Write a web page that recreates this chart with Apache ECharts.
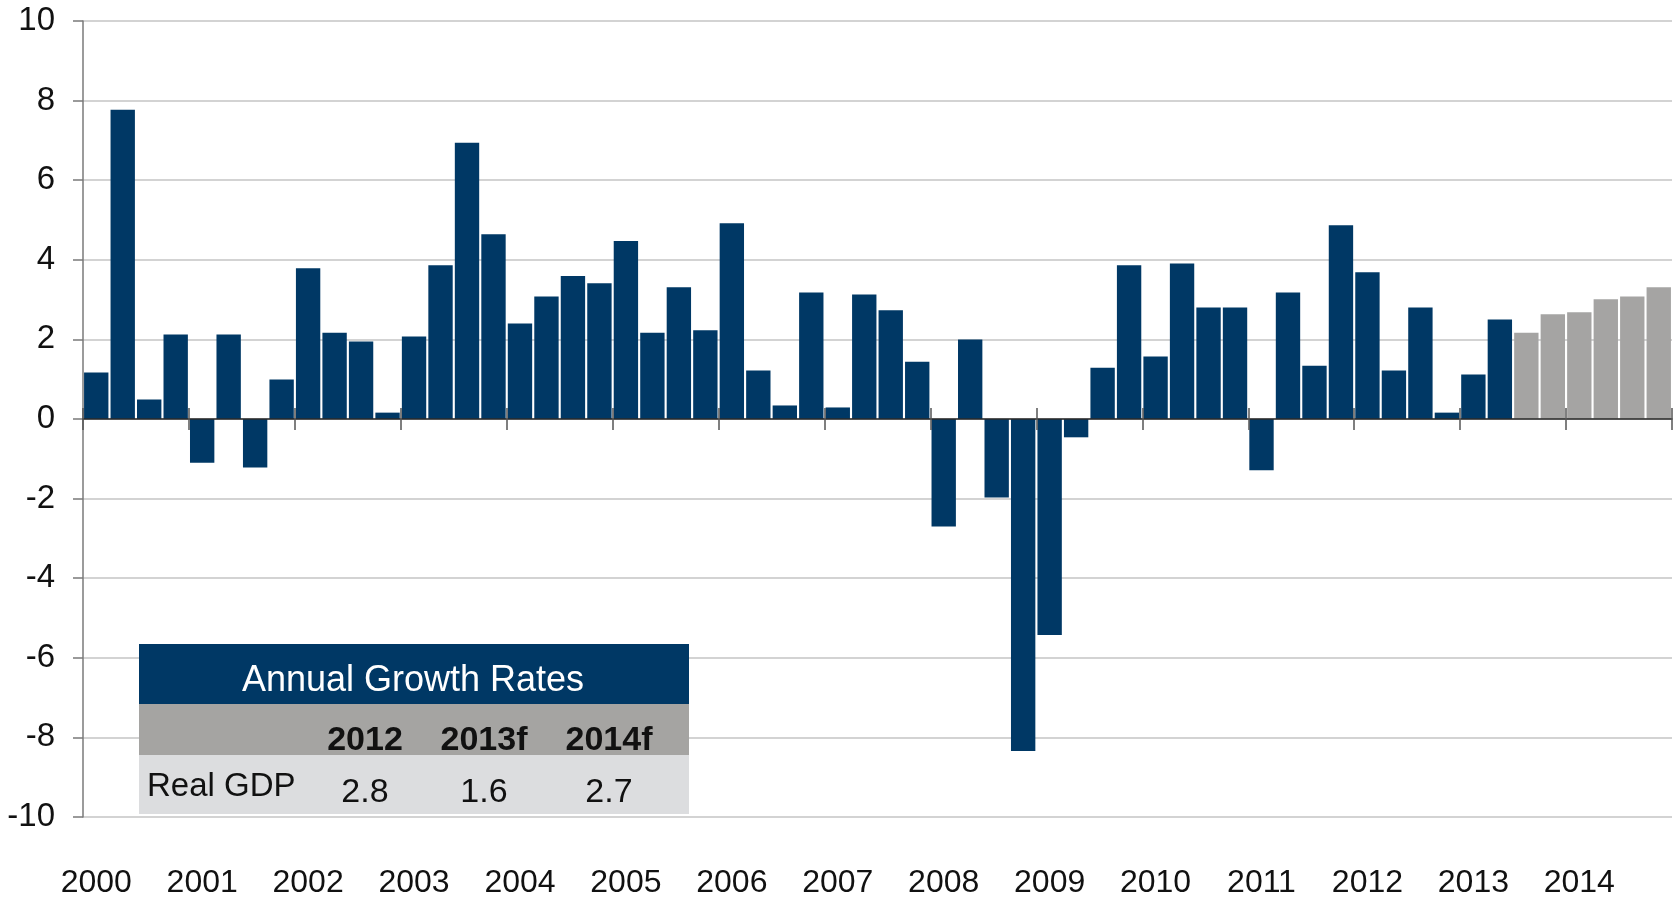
<!DOCTYPE html>
<html>
<head>
<meta charset="utf-8">
<title>Real GDP growth</title>
<script src="https://cdn.jsdelivr.net/npm/echarts@6/dist/echarts.min.js"></script>
<style>
  html, body { margin: 0; padding: 0; background: #fff; }
  #chart { width: 1673px; height: 897px; }
</style>
</head>
<body>
<div id="chart"></div>
<script>
// quarterly real GDP growth, annualised %
const years = ['2000', '2001', '2002', '2003', '2004', '2005', '2006', '2007',
  '2008', '2009', '2010', '2011', '2012', '2013', '2014'];
const quarters = ['Q1', 'Q2', 'Q3', 'Q4'];

const actualGrowth = [
  1.17, 7.77, 0.49, 2.12,
  -1.10, 2.12, -1.22, 0.99,
  3.79, 2.17, 1.95, 0.16,
  2.07, 3.86, 6.94, 4.64,
  2.40, 3.08, 3.59, 3.41,
  4.47, 2.17, 3.31, 2.23,
  4.92, 1.22, 0.34, 3.18,
  0.29, 3.13, 2.73, 1.44,
  -2.70, 2.00, -1.97, -8.34,
  -5.43, -0.46, 1.29, 3.86,
  1.57, 3.91, 2.80, 2.80,
  -1.29, 3.18, 1.34, 4.87,
  3.69, 1.22, 2.80, 0.16,
  1.12, 2.50
];
// forecast quarters 2013Q3 - 2014Q4
const forecastGrowth = [2.17, 2.63, 2.68, 3.01, 3.08, 3.31];

const yTicks = { min: -10, max: 10, step: 2 };

// small table in the lower left
const tableTitle = 'Annual Growth Rates';
const tableYears = ['2012', '2013f', '2014f'];
const tableRowLabel = 'Real GDP';
const tableValues = ['2.8', '1.6', '2.7'];

const navy = '#003865';
const grey = '#a5a4a3';
const font = 'Liberation Sans, Arial, sans-serif';

const categories = [];
years.forEach(y => quarters.forEach(q => categories.push(y + q)));

const actualData = categories.map((c, i) => i < actualGrowth.length ? actualGrowth[i] : null);
const forecastData = categories.map((c, i) => {
  const k = i - actualGrowth.length;
  return k >= 0 ? forecastGrowth[k] : null;
});

const chart = echarts.init(document.getElementById('chart'));

const colX = [365, 484, 609];

chart.setOption({
  animation: false,
  grid: { left: 83, right: 1, top: 21, bottom: 80, outerBoundsMode: 'none' },
  xAxis: [
    {
      type: 'category',
      data: categories,
      position: 'bottom',
      z: 5,
      axisLine: { show: true, onZero: true, onZeroAxisIndex: 0, lineStyle: { color: '#2a2a2a', width: 1.5 } },
      axisTick: { show: true, interval: 3, length: 11, lineStyle: { color: '#555', width: 1.5 } },
      axisLabel: { show: false },
      splitLine: { show: false }
    },
    {
      type: 'category',
      data: categories,
      position: 'bottom',
      z: 5,
      axisLine: { show: false, onZero: true, onZeroAxisIndex: 0 },
      axisTick: { show: true, inside: true, interval: 3, length: 11, lineStyle: { color: '#555', width: 1.5 } },
      axisLabel: { show: false },
      splitLine: { show: false }
    },
    {
      type: 'category',
      data: categories,
      position: 'bottom',
      axisLine: { show: false, onZero: false },
      axisTick: { show: false },
      axisLabel: {
        interval: 3,
        margin: 50,
        color: '#111',
        fontFamily: font,
        fontSize: 32,
        formatter: v => v.slice(0, 4)
      },
      splitLine: { show: false }
    }
  ],
  yAxis: {
    type: 'value',
    min: yTicks.min,
    max: yTicks.max,
    interval: yTicks.step,
    axisLine: { show: true, lineStyle: { color: '#7a7a7a', width: 1.5 } },
    axisTick: { show: true, length: 10, lineStyle: { color: '#7a7a7a', width: 1.5 } },
    axisLabel: { margin: 28, color: '#111', fontFamily: font, fontSize: 33 },
    splitLine: { show: true, lineStyle: { color: '#c4c4c4', width: 1.5 } }
  },
  series: [
    {
      name: 'Actual',
      type: 'bar',
      data: actualData,
      barGap: '-100%',
      barCategoryGap: '8%',
      itemStyle: { color: navy }
    },
    {
      name: 'Forecast',
      type: 'bar',
      data: forecastData,
      barGap: '-100%',
      barCategoryGap: '8%',
      itemStyle: { color: grey }
    }
  ],
  graphic: [
    { type: 'rect', z: 100, shape: { x: 139, y: 644, width: 550, height: 60 }, style: { fill: navy } },
    { type: 'rect', z: 100, shape: { x: 139, y: 704, width: 550, height: 51 }, style: { fill: '#a5a4a2' } },
    { type: 'rect', z: 100, shape: { x: 139, y: 755, width: 550, height: 59 }, style: { fill: '#dcdddf' } },
    {
      type: 'text', z: 101, x: 413, y: 681,
      style: { text: tableTitle, fill: '#fff', font: '36px ' + font, align: 'center', verticalAlign: 'middle' }
    },
    ...tableYears.map((t, i) => ({
      type: 'text', z: 101, x: colX[i], y: 741,
      style: { text: t, fill: '#111', font: 'bold 34px ' + font, align: 'center', verticalAlign: 'middle' }
    })),
    {
      type: 'text', z: 101, x: 147, y: 787,
      style: { text: tableRowLabel, fill: '#111', font: '33px ' + font, align: 'left', verticalAlign: 'middle' }
    },
    ...tableValues.map((t, i) => ({
      type: 'text', z: 101, x: colX[i], y: 793,
      style: { text: t, fill: '#111', font: '34px ' + font, align: 'center', verticalAlign: 'middle' }
    }))
  ]
});
</script>
</body>
</html>
